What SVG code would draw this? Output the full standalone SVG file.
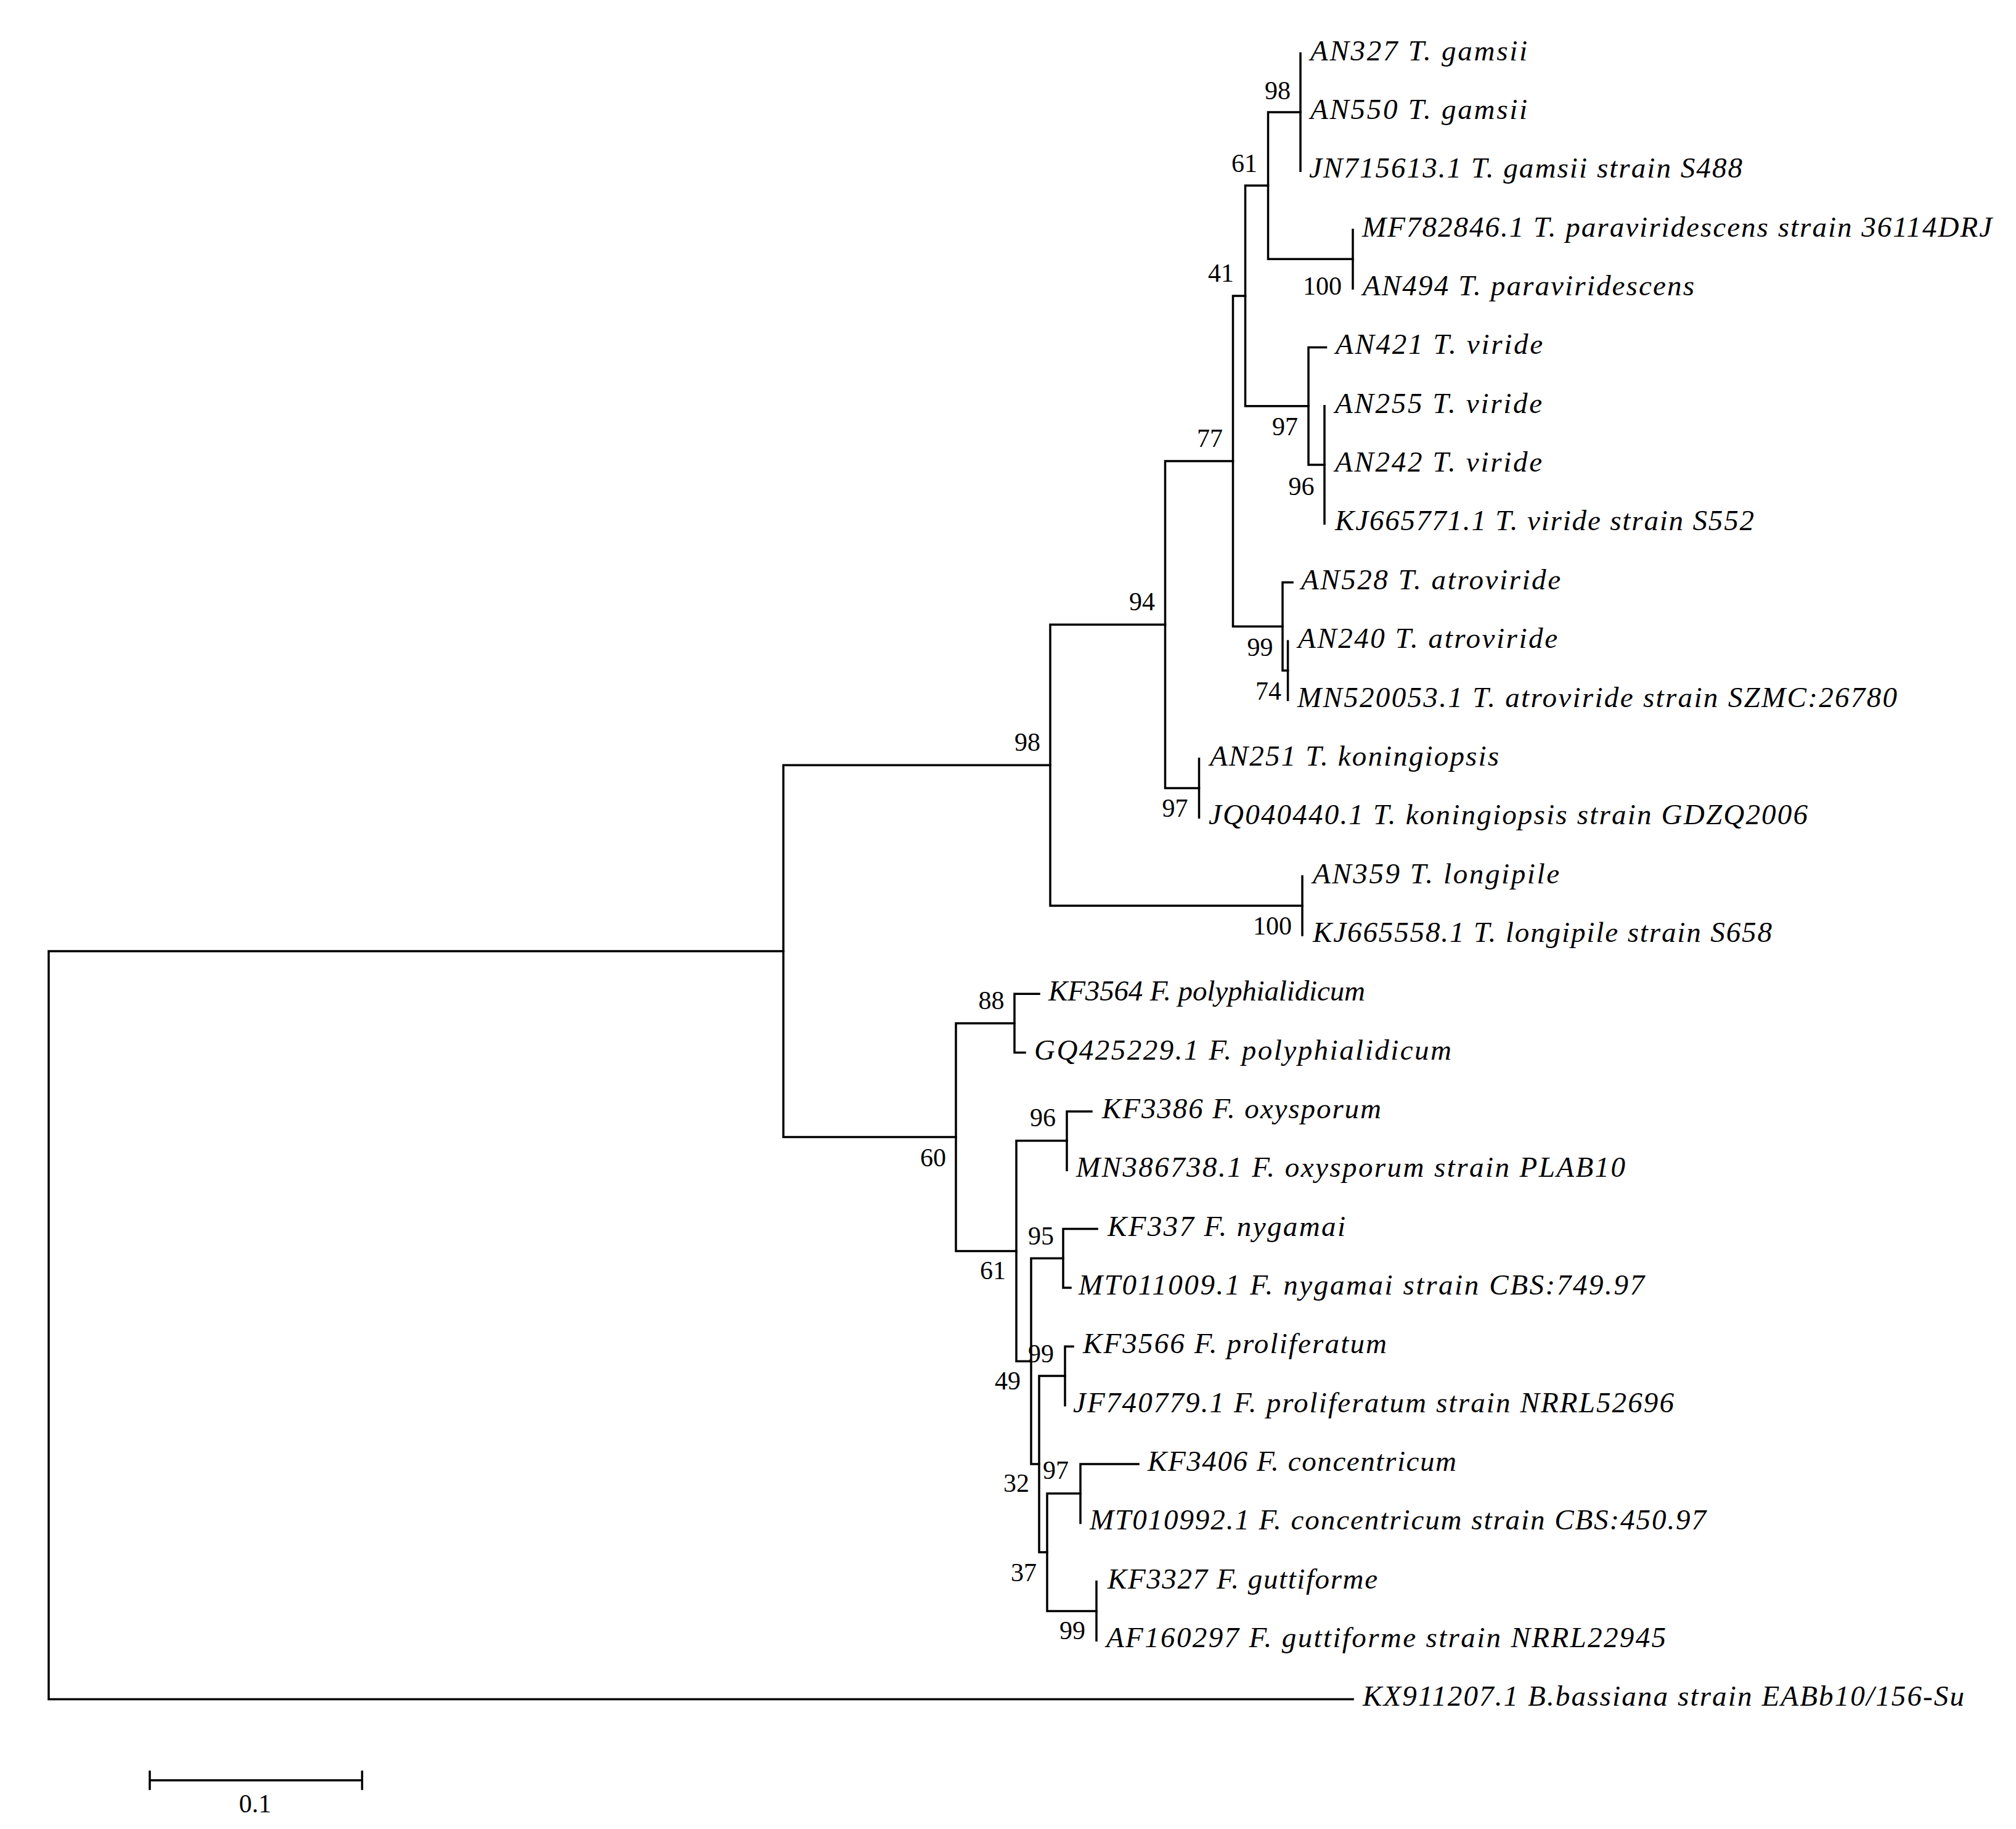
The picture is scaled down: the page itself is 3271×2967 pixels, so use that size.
<svg xmlns="http://www.w3.org/2000/svg" width="3271" height="2967" viewBox="0 0 3271 2967">
<style>
.br{fill:none;stroke:#000;stroke-width:3.5;stroke-linecap:square;stroke-linejoin:miter}
.lf{font-family:"Liberation Serif","Times New Roman",serif;font-style:italic;font-size:47px;fill:#000}
.bs{font-family:"Liberation Serif","Times New Roman",serif;font-size:42px;fill:#000;text-anchor:end}
.sc{font-family:"Liberation Serif","Times New Roman",serif;font-size:42px;fill:#000;text-anchor:middle}
</style>
<rect width="3271" height="2967" fill="#fff"/>
<g id="connectors">
<path class="br" d="M2110 86.6 V277.3"/>
<path class="br" d="M2195 372.7 V468"/>
<path class="br" d="M2110 182 H2057.5 V420.3 H2195"/>
<path class="br" d="M2149 658.7 V849.4"/>
<path class="br" d="M2151.5 563.4 H2123 V754.1 H2149"/>
<path class="br" d="M2057.5 301.1 H2020.5 V658.7 H2123"/>
<path class="br" d="M2089.6 1040.1 V1135.5"/>
<path class="br" d="M2097 944.8 H2081 V1087.8 H2089.6"/>
<path class="br" d="M2020.5 479.9 H2000.5 V1016.3 H2081"/>
<path class="br" d="M1945.5 1230.8 V1326.2"/>
<path class="br" d="M2000.5 748.1 H1890.5 V1278.5 H1945.5"/>
<path class="br" d="M2113 1421.5 V1516.9"/>
<path class="br" d="M1890.5 1013.3 H1704 V1469.2 H2113"/>
<path class="br" d="M1686 1612.2 H1646 V1707.6 H1663"/>
<path class="br" d="M1771 1802.9 H1731 V1898.3"/>
<path class="br" d="M1780 1993.6 H1725 V2089 H1737"/>
<path class="br" d="M1741 2184.3 H1728 V2279.7"/>
<path class="br" d="M1847 2375 H1753 V2470.4"/>
<path class="br" d="M1779 2565.7 V2661.1"/>
<path class="br" d="M1753 2422.7 H1699 V2613.4 H1779"/>
<path class="br" d="M1728 2232 H1686 V2518 H1699"/>
<path class="br" d="M1725 2041.3 H1673 V2375 H1686"/>
<path class="br" d="M1731 1850.6 H1649 V2208.2 H1673"/>
<path class="br" d="M1646 1659.9 H1551 V2029.4 H1649"/>
<path class="br" d="M1704 1241.3 H1271 V1844.6 H1551"/>
<path class="br" d="M1271 1543 H79 V2756.4 H2195"/>
</g>
<g id="leaf-AN327"><text class="lf" x="2126" y="97.6" textLength="352">AN327 T. gamsii</text></g>
<g id="leaf-AN550"><text class="lf" x="2126" y="193" textLength="352">AN550 T. gamsii</text></g>
<g id="leaf-JN715613"><text class="lf" x="2124" y="288.3" textLength="703">JN715613.1 T. gamsii strain S488</text></g>
<g id="leaf-MF782846"><text class="lf" x="2210" y="383.7" textLength="1022">MF782846.1 T. paraviridescens strain 36114DRJ</text></g>
<g id="leaf-AN494"><text class="lf" x="2211" y="479" textLength="538">AN494 T. paraviridescens</text></g>
<g id="leaf-AN421"><text class="lf" x="2167" y="574.4" textLength="336">AN421 T. viride</text></g>
<g id="leaf-AN255"><text class="lf" x="2166" y="669.7" textLength="336">AN255 T. viride</text></g>
<g id="leaf-AN242"><text class="lf" x="2166" y="765.1" textLength="336">AN242 T. viride</text></g>
<g id="leaf-KJ665771"><text class="lf" x="2166" y="860.4" textLength="680">KJ665771.1 T. viride strain S552</text></g>
<g id="leaf-AN528"><text class="lf" x="2111" y="955.8" textLength="421">AN528 T. atroviride</text></g>
<g id="leaf-AN240"><text class="lf" x="2106" y="1051.1" textLength="421">AN240 T. atroviride</text></g>
<g id="leaf-MN520053"><text class="lf" x="2105" y="1146.5" textLength="973">MN520053.1 T. atroviride strain SZMC:26780</text></g>
<g id="leaf-AN251"><text class="lf" x="1963" y="1241.8" textLength="469">AN251 T. koningiopsis</text></g>
<g id="leaf-JQ040440"><text class="lf" x="1961" y="1337.2" textLength="972">JQ040440.1 T. koningiopsis strain GDZQ2006</text></g>
<g id="leaf-AN359"><text class="lf" x="2130" y="1432.5" textLength="400">AN359 T. longipile</text></g>
<g id="leaf-KJ665558"><text class="lf" x="2130" y="1527.9" textLength="745">KJ665558.1 T. longipile strain S658</text></g>
<g id="leaf-KF3564"><text class="lf" x="1701" y="1623.2" textLength="514">KF3564 F. polyphialidicum</text></g>
<g id="leaf-GQ425229"><text class="lf" x="1678" y="1718.6" textLength="677">GQ425229.1 F. polyphialidicum</text></g>
<g id="leaf-KF3386"><text class="lf" x="1788" y="1813.9" textLength="453">KF3386 F. oxysporum</text></g>
<g id="leaf-MN386738"><text class="lf" x="1746" y="1909.3" textLength="891">MN386738.1 F. oxysporum strain PLAB10</text></g>
<g id="leaf-KF337"><text class="lf" x="1797" y="2004.6" textLength="386">KF337 F. nygamai</text></g>
<g id="leaf-MT011009"><text class="lf" x="1750" y="2100" textLength="918">MT011009.1 F. nygamai strain CBS:749.97</text></g>
<g id="leaf-KF3566"><text class="lf" x="1757" y="2195.3" textLength="493">KF3566 F. proliferatum</text></g>
<g id="leaf-JF740779"><text class="lf" x="1741" y="2290.7" textLength="975">JF740779.1 F. proliferatum strain NRRL52696</text></g>
<g id="leaf-KF3406"><text class="lf" x="1862" y="2386" textLength="501">KF3406 F. concentricum</text></g>
<g id="leaf-MT010992"><text class="lf" x="1768" y="2481.4" textLength="1000">MT010992.1 F. concentricum strain CBS:450.97</text></g>
<g id="leaf-KF3327"><text class="lf" x="1797" y="2576.7" textLength="438">KF3327 F. guttiforme</text></g>
<g id="leaf-AF160297"><text class="lf" x="1795" y="2672.1" textLength="908">AF160297 F. guttiforme strain NRRL22945</text></g>
<g id="leaf-KX911207"><text class="lf" x="2211" y="2767.4" textLength="976">KX911207.1 B.bassiana strain EABb10/156-Su</text></g>
<g id="node-gamsii"><text class="bs" x="2094" y="161">98</text></g>
<g id="node-61a"><text class="bs" x="2040" y="279">61</text></g>
<g id="node-41"><text class="bs" x="2002" y="457">41</text></g>
<g id="node-paraviridescens"><text class="bs" x="2177" y="477.5">100</text></g>
<g id="node-77"><text class="bs" x="1984" y="725">77</text></g>
<g id="node-97a"><text class="bs" x="2106" y="706">97</text></g>
<g id="node-96a"><text class="bs" x="2132.5" y="803">96</text></g>
<g id="node-94"><text class="bs" x="1874" y="990">94</text></g>
<g id="node-atroviride"><text class="bs" x="2065.5" y="1064">99</text></g>
<g id="node-74"><text class="bs" x="2079" y="1135">74</text></g>
<g id="node-98b"><text class="bs" x="1688" y="1217.5">98</text></g>
<g id="node-koningiopsis"><text class="bs" x="1927.5" y="1325">97</text></g>
<g id="node-longipile"><text class="bs" x="2096" y="1516">100</text></g>
<g id="node-88"><text class="bs" x="1629.5" y="1637">88</text></g>
<g id="node-60"><text class="bs" x="1535" y="1891.5">60</text></g>
<g id="node-96b"><text class="bs" x="1713" y="1827">96</text></g>
<g id="node-61b"><text class="bs" x="1632" y="2074.5">61</text></g>
<g id="node-95"><text class="bs" x="1710" y="2019">95</text></g>
<g id="node-proliferatum"><text class="bs" x="1710" y="2210">99</text></g>
<g id="node-49"><text class="bs" x="1656" y="2253.6">49</text></g>
<g id="node-concentricum"><text class="bs" x="1734" y="2398.7">97</text></g>
<g id="node-32"><text class="bs" x="1670" y="2420">32</text></g>
<g id="node-37"><text class="bs" x="1682" y="2565">37</text></g>
<g id="node-guttiforme"><text class="bs" x="1761" y="2659">99</text></g>
<g id="scale-bar">
<path class="br" d="M243 2874 V2902 M243 2888 H587.5 M587.5 2874 V2902"/>
<text class="sc" x="414" y="2940">0.1</text>
</g>
</svg>
